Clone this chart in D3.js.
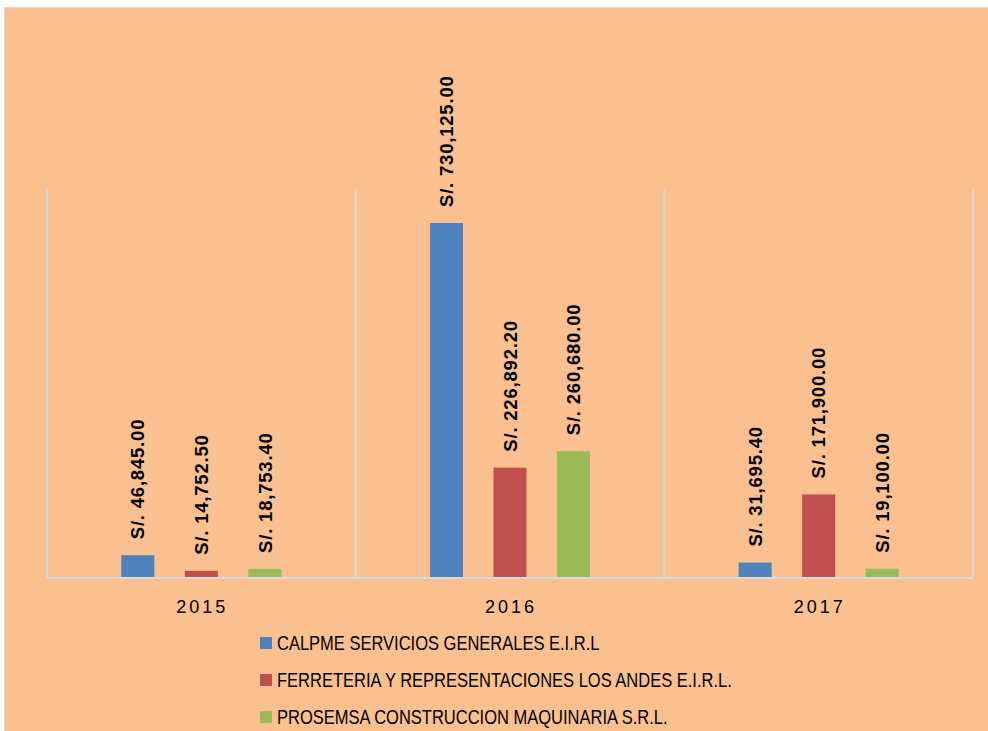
<!DOCTYPE html>
<html>
<head>
<meta charset="utf-8">
<script src="https://cdn.jsdelivr.net/npm/d3@7"></script>
<style>
  body { margin: 0; background: #fff; }
  svg { display: block; }
</style>
</head>
<body>
<svg id="chart" width="988" height="731"></svg>
<script>
var years = ["2015", "2016", "2017"];
var empresas = [
    "CALPME SERVICIOS GENERALES E.I.R.L",
    "FERRETERIA Y REPRESENTACIONES LOS ANDES E.I.R.L.",
    "PROSEMSA CONSTRUCCION MAQUINARIA S.R.L."
];
var calpme = [46845.00, 730125.00, 31695.40];
var ferreteria = [14752.50, 226892.20, 171900.00];
var prosemsa = [18753.40, 260680.00, 19100.00];
var colores = ["#4F81BD", "#C0504D", "#9BBB59"];

var series = [calpme, ferreteria, prosemsa];

var svg = d3.select("#chart");

// chart area
svg.append("rect")
    .attr("x", 4.5).attr("y", 7.5)
    .attr("width", 990).attr("height", 730)
    .attr("fill", "#FAC090")
    .attr("stroke", "#D9D9D9")
    .attr("stroke-width", 1);

var x0 = d3.scaleBand().domain(years).range([47, 973]).padding(0);
var x1 = d3.scaleBand().domain(d3.range(3)).range([0, x0.bandwidth()])
    .paddingInner(0.48).paddingOuter(1.17);
var y = d3.scaleLinear().domain([0, 800000]).range([578, 189]);

// vertical gridlines at category edges
var edges = years.map(function(d) { return x0(d); }).concat([x0.range()[1]]);
svg.append("g").selectAll("line")
    .data(edges)
    .enter().append("line")
    .attr("x1", function(d) { return d; })
    .attr("x2", function(d) { return d; })
    .attr("y1", y(800000))
    .attr("y2", y(0))
    .attr("stroke", "#D9D9D9")
    .attr("stroke-width", 2);

// bars
var groups = svg.append("g").selectAll("g")
    .data(years)
    .enter().append("g")
    .attr("transform", function(d) { return "translate(" + x0(d) + ",0)"; });

groups.selectAll("rect")
    .data(function(d, i) { return series.map(function(s, k) { return { k: k, v: s[i] }; }); })
    .enter().append("rect")
    .attr("x", function(d) { return x1(d.k); })
    .attr("width", x1.bandwidth())
    .attr("y", function(d) { return y(d.v); })
    .attr("height", function(d) { return y(0) - y(d.v); })
    .attr("fill", function(d) { return colores[d.k]; });

var fmt = d3.format(",.2f");
groups.selectAll("text")
    .data(function(d, i) { return series.map(function(s, k) { return { k: k, v: s[i] }; }); })
    .enter().append("text")
    .attr("transform", function(d) {
        return "translate(" + (x1(d.k) + x1.bandwidth() / 2) + "," + (y(d.v) - 16) + ") rotate(-90)";
    })
    .attr("dy", "0.36em")
    .attr("text-anchor", "start")
    .style("font-family", "'Liberation Sans', Arial, sans-serif")
    .style("font-weight", "bold")
    .style("font-size", "18.5px")
    .style("letter-spacing", "0.8px")
    .attr("fill", "#000")
    .text(function(d) { return "S/. " + fmt(d.v); });

// axis line
svg.append("line")
    .attr("x1", 47).attr("x2", 973)
    .attr("y1", y(0)).attr("y2", y(0))
    .attr("stroke", "#D9D9D9")
    .attr("stroke-width", 2);

// category labels
svg.append("g").selectAll("text")
    .data(years)
    .enter().append("text")
    .attr("x", function(d) { return x0(d) + x0.bandwidth() / 2 + 1; })
    .attr("y", 613)
    .attr("text-anchor", "middle")
    .style("font-family", "'Liberation Sans', Arial, sans-serif")
    .style("font-size", "18px")
    .style("letter-spacing", "3px")
    .attr("fill", "#000")
    .text(function(d) { return d; });

// legend
var legend = svg.append("g").selectAll("g")
    .data(empresas)
    .enter().append("g")
    .attr("transform", function(d, i) { return "translate(260," + (643 + i * 37) + ")"; });

legend.append("rect")
    .attr("x", 0).attr("y", -6)
    .attr("width", 12).attr("height", 12)
    .attr("fill", function(d, i) { return colores[i]; });

var legendText = legend.append("text")
    .attr("dy", "0.36em")
    .style("font-family", "'Liberation Sans', Arial, sans-serif")
    .style("font-size", "20px")
    .attr("fill", "#000")
    .text(function(d) { return d; });

// narrow the legend text to the width of the original (a condensed face)
var widest = d3.max(legendText.nodes(), function(n) { return n.getComputedTextLength(); });
var sx = 455 / widest;
legendText.attr("transform", "translate(17,0) scale(" + sx + ",1)");
</script>
</body>
</html>
